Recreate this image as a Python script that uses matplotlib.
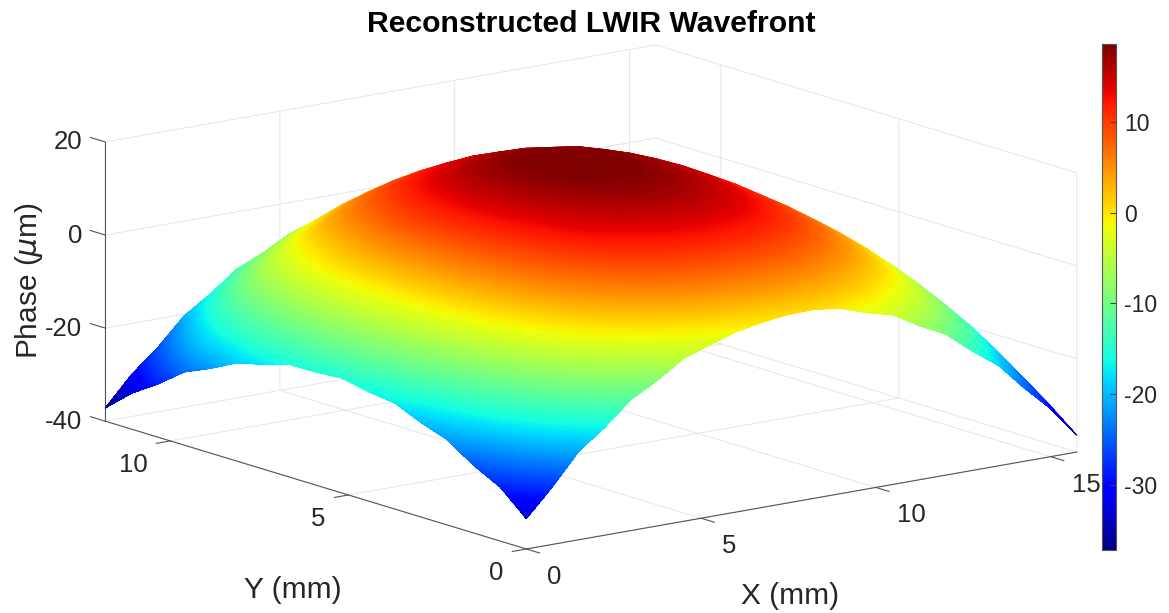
import numpy as np, matplotlib
matplotlib.use("Agg")
import matplotlib.pyplot as plt
from mpl_toolkits.mplot3d import proj3d

plt.rcParams['font.family'] = ['Liberation Sans', 'DejaVu Sans']
plt.rcParams['mathtext.fontset'] = 'dejavusans'
plt.rcParams['axes.unicode_minus'] = False

# sample positions in mm, phase in um (rows follow y_mm)
x_mm = [0, .75, 1.5, 2.25, 3, 3.75, 4.5, 5.25, 6, 6.75, 7.5, 8.25, 9, 9.75, 10.5, 11.25, 12, 12.75, 13.5, 14.25, 15, 15.75]
y_mm = [0, .74, 1.48, 2.22, 2.96, 3.7, 4.44, 5.18, 5.91, 6.65, 7.39, 8.13, 8.87, 9.61, 10.35, 11.09, 11.83]
phase = [
    [-33.5, -27.6, -21.0, -16.8, -11.8, -8.7, -5.0, -3.1, -1.3, -0.2, 0.5, 0.6, -0.2, -2.1, -3.6, -6.9, -9.7, -14.3, -18.4, -24.3, -29.7, -36.4],
    [-28.4, -21.5, -15.3, -10.1, -5.9, -2.5, 0.2, 2.4, 3.8, 4.7, 5.1, 4.9, 4.3, 2.9, 1.0, -1.6, -4.7, -8.7, -13.3, -18.7, -25.0, -31.8],
    [-25.5, -17.3, -11.0, -5.7, -1.6, 1.7, 4.3, 6.4, 7.7, 8.5, 8.9, 8.7, 8.1, 6.8, 4.9, 2.4, -0.7, -4.6, -9.2, -14.6, -21.0, -28.7],
    [-21.7, -14.3, -8.1, -2.8, 1.3, 4.7, 7.3, 9.4, 10.8, 11.6, 12.0, 11.8, 11.2, 9.9, 8.0, 5.4, 2.3, -1.6, -6.2, -11.6, -18.0, -24.9],
    [-19.7, -12.1, -6.0, -0.7, 3.4, 6.8, 9.6, 11.8, 13.2, 14.2, 14.6, 14.4, 13.7, 12.4, 10.4, 7.9, 4.7, 0.8, -3.9, -9.2, -15.5, -22.9],
    [-17.2, -10.6, -4.7, 0.5, 4.7, 8.2, 11.1, 13.5, 15.0, 16.0, 16.5, 16.3, 15.6, 14.2, 12.2, 9.6, 6.3, 2.4, -2.3, -7.6, -13.8, -20.4],
    [-16.5, -9.7, -3.9, 1.2, 5.5, 9.1, 12.1, 14.5, 16.2, 17.3, 17.8, 17.6, 16.8, 15.5, 13.4, 10.8, 7.4, 3.4, -1.3, -6.6, -12.7, -19.7],
    [-15.3, -9.2, -3.6, 1.5, 5.8, 9.6, 12.8, 15.3, 17.1, 18.3, 18.6, 18.6, 17.8, 16.4, 14.3, 11.5, 8.0, 4.0, -0.8, -6.1, -12.1, -18.5],
    [-15.7, -9.2, -3.6, 1.5, 5.8, 9.8, 13.0, 15.7, 17.5, 18.6, 18.6, 18.6, 18.3, 16.9, 14.7, 11.8, 8.2, 4.1, -0.8, -6.1, -12.1, -18.9],
    [-15.8, -9.6, -4.0, 1.1, 5.4, 9.5, 12.8, 15.6, 17.5, 18.6, 18.6, 18.6, 18.3, 16.7, 14.5, 11.6, 7.9, 3.6, -1.3, -6.6, -12.6, -19.0],
    [-17.5, -10.7, -5.0, 0.1, 4.4, 8.5, 11.9, 14.6, 16.6, 17.8, 18.4, 18.2, 17.4, 15.8, 13.6, 10.6, 6.8, 2.5, -2.5, -7.8, -13.8, -20.7],
    [-18.9, -12.5, -6.7, -1.5, 2.7, 6.8, 10.1, 12.8, 14.7, 15.9, 16.5, 16.3, 15.5, 13.9, 11.7, 8.7, 4.9, 0.6, -4.4, -9.7, -15.7, -22.1],
    [-21.8, -14.7, -8.9, -3.7, 0.5, 4.6, 7.8, 10.4, 12.3, 13.4, 13.9, 13.7, 12.9, 11.4, 9.2, 6.2, 2.4, -1.8, -6.8, -12.1, -18.1, -25.0],
    [-24.3, -17.7, -11.8, -6.6, -2.4, 1.6, 4.7, 7.2, 8.9, 10.0, 10.5, 10.3, 9.5, 8.0, 5.8, 2.9, -0.8, -5.0, -9.9, -15.2, -21.2, -27.5],
    [-28.6, -21.8, -16.0, -10.9, -6.6, -2.8, 0.3, 2.9, 4.7, 5.8, 6.3, 6.1, 5.3, 3.9, 1.7, -1.1, -4.7, -8.8, -13.6, -18.9, -24.9, -31.8],
    [-32.3, -26.4, -20.8, -15.7, -11.4, -7.7, -4.6, -2.1, -0.4, 0.8, 1.3, 1.1, 0.3, -1.1, -3.2, -5.9, -9.3, -13.3, -18.0, -23.3, -29.3, -34.9],
    [-37.2, -31.0, -26.2, -20.4, -16.7, -12.4, -9.9, -6.8, -5.7, -3.9, -4.0, -3.6, -5.0, -5.8, -8.5, -10.6, -14.6, -18.0, -23.3, -28.0, -33.6, -37.0],
]
x_ticks, y_ticks, z_ticks = [0, 5, 10, 15], [0, 5, 10], [-40, -20, 0, 20]
cbar_ticks = [-30, -20, -10, 0, 10]
XMAX, YMAX, ZMIN = 15.75, 11.83, -40

W, H = 1169, 613
TEXT, LINE = '#262626', '#555555'
fig = plt.figure(figsize=(W / 100, H / 100), dpi=100)

ax = fig.add_axes([77.5 / W, -197.5 / H, 1000 / W, 1000 / H], projection='3d', proj_type='ortho')
ax.set_box_aspect((692, 695, 287), zoom=0.992)
ax.view_init(elev=13.37, azim=-127.3)
ax.set_xlim(0, XMAX, view_margin=0)
ax.set_ylim(0, YMAX, view_margin=0)
ax.set_zlim(ZMIN, 20, view_margin=0)
ax.set_xticks(x_ticks); ax.set_yticks(y_ticks); ax.set_zticks(z_ticks)
ax.set_xticklabels([]); ax.set_yticklabels([]); ax.set_zticklabels([])
ax.patch.set_alpha(0)
for a in (ax.xaxis, ax.yaxis, ax.zaxis):
    a.set_pane_color((1, 1, 1, 0))
    a.pane.set_edgecolor('#e4e4e4')
    a.pane.set_linewidth(0.7)
    a.line.set_color(LINE)
    a.line.set_linewidth(0.8)
    a._axinfo['grid'].update(color='#e6e6e6', linewidth=0.7)
    a._axinfo['tick'].update(inward_factor=0, outward_factor=0)

# tick marks stick out of the box the way MATLAB draws them
for t in x_ticks:
    ax.plot([t, t], [0, -0.37], [ZMIN, ZMIN], color=LINE, lw=0.8, clip_on=False)
for t in y_ticks:
    ax.plot([0, -0.4], [t, t], [ZMIN, ZMIN], color=LINE, lw=0.8, clip_on=False)
for t in z_ticks:
    ax.plot([0, 0], [YMAX, YMAX + 0.42], [t, t], color=LINE, lw=0.8, clip_on=False)

# surface goes on an overlay, shaded by value like MATLAB's interp
X, Y = np.meshgrid(x_mm, y_mm)
Z = np.array(phase)
M = ax.get_proj()
sx, sy, sz = proj3d.proj_transform(X.ravel(), Y.ravel(), Z.ravel(), M)
nr, nc = Z.shape
tris = []
for j in range(nr - 1):
    for i in range(nc - 1):
        a0 = j * nc + i
        tris += [[a0, a0 + 1, a0 + nc], [a0 + 1, a0 + nc + 1, a0 + nc]]
tris = np.array(tris)
tris = tris[np.argsort(-sz[tris].mean(axis=1))]  # far triangles first
p0, p1, p2 = tris.T
area = (sx[p1] - sx[p0]) * (sy[p2] - sy[p0]) - (sy[p1] - sy[p0]) * (sx[p2] - sx[p0])

ov = fig.add_axes([0, 0, 1, 1])
ov.axis('off')
mesh = ov.tripcolor(sx, sy, tris, Z.ravel(), shading='gouraud', cmap='jet', vmin=Z.min(), vmax=Z.max())
mesh.set_transform(ax.transData)
mesh.set_clip_on(False)
ov.tricontourf(sx, sy, tris[area > 0], Z.ravel(), levels=np.linspace(Z.min(), Z.max(), 257),
               cmap='jet', vmin=Z.min(), vmax=Z.max(), transform=ax.transData, antialiased=False)
ov.set_xlim(0, 1); ov.set_ylim(0, 1)


def tick_label(x, y, z, dx, dy, ha):
    px, py, _ = proj3d.proj_transform(x, y, z, M)
    ov.annotate(str(t), xy=(px, py), xycoords=ax.transData, xytext=(dx, dy), textcoords='offset pixels',
                ha=ha, va='center', fontsize=18.5, color=TEXT, annotation_clip=False)


for t in x_ticks:
    tick_label(t, 0, ZMIN, 21, -28, 'left')
for t in y_ticks:
    tick_label(0, t, ZMIN, -23, -24, 'right')
for t in z_ticks:
    tick_label(0, YMAX, t, -23, -0.5, 'right')

cax = fig.add_axes([1102 / W, 1 - 550 / H, 14 / W, 506 / H])
cb = fig.colorbar(mesh, cax=cax, ticks=cbar_ticks)
cb.outline.set_edgecolor(LINE)
cb.outline.set_linewidth(0.8)
cax.tick_params(direction='in', length=4, width=0.8, color='#444444', labelsize=16.5, labelcolor=TEXT, pad=6)

fig.text(591 / W, 1 - 24 / H, 'Reconstructed LWIR Wavefront', ha='center', va='center', fontsize=21.7, fontweight='bold', color='black')
fig.text(29 / W, 1 - 281 / H, 'Phase ($\\mu$m)', ha='center', va='center', rotation=90, fontsize=21.5, color=TEXT)
fig.text(293 / W, 1 - 590 / H, 'Y (mm)', ha='center', va='center', fontsize=21.5, color=TEXT)
fig.text(790 / W, 1 - 596 / H, 'X (mm)', ha='center', va='center', fontsize=21.5, color=TEXT)

fig.savefig('out.png', dpi=100)
